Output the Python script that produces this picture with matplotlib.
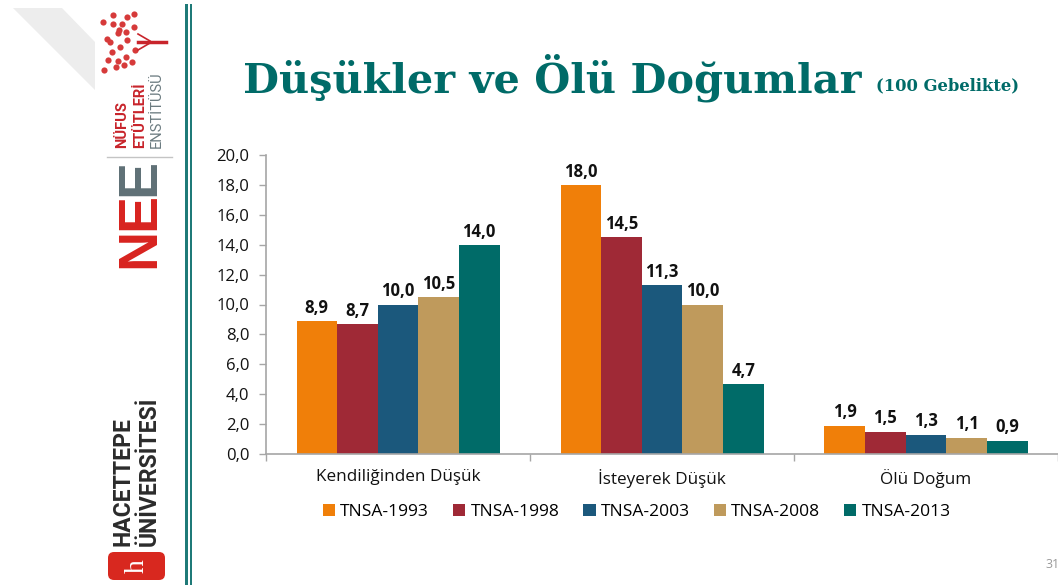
import matplotlib
matplotlib.use('Agg')
import matplotlib.pyplot as plt
from matplotlib.patches import Polygon, Rectangle, FancyBboxPatch
import numpy as np

W, H = 1058, 585

categories = ['Kendiliğinden Düşük', 'İsteyerek Düşük', 'Ölü Doğum']
series_names = ['TNSA-1993', 'TNSA-1998', 'TNSA-2003', 'TNSA-2008', 'TNSA-2013']
v1993 = [8.9, 18.0, 1.9]
v1998 = [8.7, 14.5, 1.5]
v2003 = [10.0, 11.3, 1.3]
v2008 = [10.5, 10.0, 1.1]
v2013 = [14.0, 4.7, 0.9]
colors = ['#f07f09', '#9f2936', '#1b587c', '#bf9a5c', '#006b68']
y_ticks = np.arange(0, 21, 2)

# leaves of the tree in the logo (pixels)
leaves_x = [134, 127, 122, 118, 113, 107, 103, 120, 127, 134, 112, 118, 126, 135, 108, 116, 124, 132, 104, 110, 126, 119, 113]
leaves_y = [14, 17, 24, 33, 24, 39, 22, 47, 40, 27, 52, 61, 57, 50, 60, 67, 65, 62, 70, 42, 32, 30, 15]

plt.rcParams['font.family'] = ['Open Sans', 'DejaVu Sans']
fig = plt.figure(figsize=(W / 100, H / 100), dpi=100, facecolor='white')

# pixel coordinates for the slide decoration
bg = fig.add_axes((0, 0, 1, 1))
bg.set_xlim(0, W)
bg.set_ylim(H, 0)
bg.axis('off')

bg.add_patch(Polygon([(13, 8), (62, 8), (95, 42), (95, 90)], color='#ededed', lw=0))
bg.add_patch(Rectangle((184.5, 4), 3.2, H, color='#1f7a78', lw=0))
bg.add_patch(Rectangle((189.5, 4), 2.6, H, color='#1f7a78', lw=0))

# logos
bg.scatter(leaves_x, leaves_y, s=20, color='#d63a3a', marker='o', lw=0)
bg.plot([138, 166], [42, 42], color='#c8242b', lw=2.5)
bg.plot([138, 150], [34, 41], color='#c8242b', lw=1.2)
bg.plot([138, 150], [50, 43], color='#c8242b', lw=1.2)
bg.text(122, 148, 'NÜFUS', rotation=90, ha='center', va='bottom', fontsize=10.5,
        fontweight='bold', color='#c8242b', family='Roboto')
bg.text(140, 148, 'ETÜTLERİ', rotation=90, ha='center', va='bottom', fontsize=10.5,
        fontweight='bold', color='#c8242b', family='Roboto')
bg.text(157, 148, 'ENSTİTÜSÜ', rotation=90, ha='center', va='bottom', fontsize=10.5,
        color='#6b7b80', family='Roboto')
bg.plot([107, 172], [157, 157], color='#c4c4c4', lw=1)
bg.text(140, 268, 'N', rotation=90, ha='center', va='bottom', fontsize=40, fontweight='bold',
        color='#d8231f', family='Liberation Sans')
bg.text(140, 230, 'E', rotation=90, ha='center', va='bottom', fontsize=40, fontweight='bold',
        color='#d8231f', family='Liberation Sans')
bg.text(140, 196, 'E', rotation=90, ha='center', va='bottom', fontsize=40, fontweight='bold',
        color='#5f7076', family='Liberation Sans')
bg.text(123, 546, 'HACETTEPE', rotation=90, ha='center', va='bottom', fontsize=16.5,
        fontweight='bold', color='#2b2b2b', family='Roboto')
bg.text(149, 546, 'ÜNİVERSİTESİ', rotation=90, ha='center', va='bottom', fontsize=16.5,
        fontweight='bold', color='#2b2b2b', family='Roboto')
bg.add_patch(FancyBboxPatch((108, 552), 57, 28, boxstyle='round,pad=0,rounding_size=6',
                            color='#d8281f', lw=0))
bg.text(137, 566, 'h', rotation=90, ha='center', va='center', fontsize=20, color='white',
        family='Liberation Serif')

# title
bg.text(243, 78, 'Düşükler ve Ölü Doğumlar', ha='left', va='center', fontsize=29.8,
        fontweight='bold', color='#006b68', family='DejaVu Serif')
bg.text(876, 86, '(100 Gebelikte)', ha='left', va='center', fontsize=11.8,
        fontweight='bold', color='#006b68', family='DejaVu Serif')
bg.text(1045, 565, '31', ha='left', va='center', fontsize=9, color='#9a9a9a')

# chart
ax = fig.add_axes((266 / W, 1 - 454 / H, (W - 266) / W, 299 / H))
ax.patch.set_alpha(0)
x = np.arange(len(categories)) + 0.5
bar_w = 40.6 / 264
all_values = [v1993, v1998, v2003, v2008, v2013]
for i, values in enumerate(all_values):
    bars = ax.bar(x + (i - 2) * bar_w, values, bar_w, color=colors[i], label=series_names[i])
    ax.bar_label(bars, labels=[f'{v:.1f}'.replace('.', ',') for v in values], padding=3,
                 fontsize=12, fontweight='bold', color='#111111')

ax.set_xlim(0, 3)
ax.set_ylim(0, 20)
ax.set_yticks(y_ticks)
ax.set_yticklabels([f'{v:.1f}'.replace('.', ',') for v in y_ticks], fontsize=12, color='#111111')
ax.set_xticks([0, 1, 2, 3])
ax.set_xticklabels([])
ax.set_xticks(x, minor=True)
ax.set_xticklabels(categories, minor=True, fontsize=12.3, color='#111111')
ax.tick_params(axis='x', which='major', length=5, color='#a6a6a6', width=1)
ax.tick_params(axis='x', which='minor', length=0, pad=11)
ax.tick_params(axis='y', length=5, color='#a6a6a6', width=1, pad=7)
for side in ['top', 'right']:
    ax.spines[side].set_visible(False)
for side in ['left', 'bottom']:
    ax.spines[side].set_color('#a6a6a6')
    ax.spines[side].set_linewidth(1.2)

ax.legend(loc='center left', bbox_to_anchor=((323 - 266) / (W - 266), (454 - 512) / 299), ncol=5,
          frameon=False, fontsize=12.5, handlelength=0.7, handleheight=0.7, handletextpad=0.3,
          columnspacing=1.38, borderaxespad=0, borderpad=0)

fig.savefig('out.png', dpi=100)
